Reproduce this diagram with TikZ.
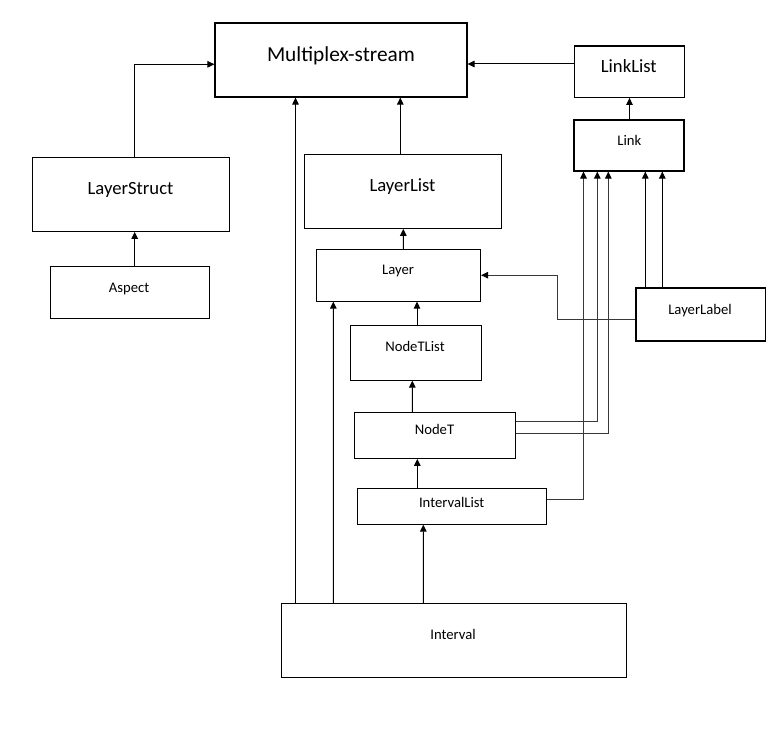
\documentclass[tikz,border=0pt]{standalone}
\usepackage{fontspec}
\setmainfont{Carlito}
\usetikzlibrary{arrows.meta}
\begin{document}
\begin{tikzpicture}[x=1pt,y=-1pt,
  box/.style={draw=black,line width=1.1pt,rectangle,inner sep=0pt,fill=white},
  bigtxt/.style={anchor=base,inner sep=0pt,font=\fontsize{21.33}{25}\selectfont},
  midtxt/.style={anchor=base,inner sep=0pt,font=\fontsize{18.67}{22}\selectfont},
  smalltxt/.style={anchor=base,inner sep=0pt,font=\fontsize{14.67}{17}\selectfont},
  arr/.style={draw=black,line width=1pt,-{Triangle[length=7pt,width=6.5pt]}},
  arrg/.style={draw=black!78,line width=1.1pt,-{Triangle[length=7pt,width=6.5pt,fill=black,color=black]}}
]
\useasboundingbox (0,0) rectangle (773,733);
\fill[white] (0,0) rectangle (773,733);

% boxes
\node[box,minimum width=252pt,minimum height=74pt] (ms) at (341,60) {};
\node[bigtxt] (mst) at (341,61.6) {Multiplex-stream};

\node[box,minimum width=109.5pt,minimum height=51.3pt] (linklist) at (629.3,71.7) {};
\node[midtxt] (linklistt) at (628.8,73) {LinkList};

\node[box,minimum width=110pt,minimum height=51pt] (link) at (629,145.5) {};
\node[smalltxt] (linkt) at (629.3,145.6) {Link};

\node[box,minimum width=197pt,minimum height=74pt] (lstruct) at (130.8,194.3) {};
\node[midtxt] (lstructt) at (130.5,194.6) {LayerStruct};

\node[box,minimum width=159pt,minimum height=51.7pt] (aspect) at (129.8,292.2) {};
\node[smalltxt] (aspectt) at (129,292.6) {Aspect};

\node[box,minimum width=196.7pt,minimum height=74pt] (llist) at (402.7,191.3) {};
\node[midtxt] (llistt) at (402.5,191.3) {LayerList};

\node[box,minimum width=164.2pt,minimum height=51.7pt] (layer) at (398.4,275.2) {};
\node[smalltxt] (layert) at (398,274.9) {Layer};

\node[box,minimum width=131pt,minimum height=54.7pt] (ntlist) at (415.8,352.7) {};
\node[smalltxt] (ntlistt) at (415,351.6) {NodeTList};

\node[box,minimum width=161.2pt,minimum height=46pt] (nodet) at (434.9,435.3) {};
\node[smalltxt] (nodett) at (434.5,434.9) {NodeT};

\node[box,minimum width=189.2pt,minimum height=35.7pt] (ilist) at (451.9,506.2) {};
\node[smalltxt] (ilistt) at (451.7,507.2) {IntervalList};

\node[box,minimum width=344.7pt,minimum height=74pt] (interval) at (453.7,640.3) {};
\node[smalltxt] (intervalt) at (453,639.2) {Interval};

\node[box,minimum width=129.7pt,minimum height=53pt] (llabel) at (700.8,314.5) {};
\node[smalltxt] (llabelt) at (700,314.9) {LayerLabel};

% connectors
\draw[arr] ([xshift=3.9pt]lstruct.north) |- ([yshift=-4.3pt]ms.west);
\draw[arr] ([xshift=4.9pt]aspect.north) -- ([xshift=3.9pt]lstruct.south);
\draw[arr] ([yshift=7.7pt]linklist.west) -- ([yshift=-4pt]ms.east);
\draw[arr] ([xshift=0.5pt]link.north) -- ([xshift=0.2pt]linklist.south);
\draw[arr] ([xshift=-2.4pt]llist.north) -- ([xshift=59.3pt]ms.south);
\draw[arr] ([xshift=4.9pt]layer.north) -- ([xshift=0.6pt]llist.south);
\draw[arr] ([xshift=-158.2pt]interval.north) -- ([xshift=-45.5pt]ms.south);
\draw[arr] ([xshift=-120.4pt]interval.north) -- ([xshift=-65.1pt]layer.south);
\draw[arr] ([xshift=1.2pt]ntlist.north) -- ([xshift=18.6pt]layer.south);
\draw[arr] ([xshift=-22.6pt]nodet.north) -- ([xshift=-3.5pt]ntlist.south);
\draw[arr] ([xshift=-34.6pt]ilist.north) -- ([xshift=-17.6pt]nodet.south);
\draw[arr] ([xshift=-30.4pt]interval.north) -- ([xshift=-28.6pt]ilist.south);
\draw[arrg] ([yshift=-5pt]llabel.west) -| ([xshift=76.8pt]layer.east) -- (layer.east);
\draw[arr] ([xshift=-55.5pt]llabel.north) -- ([xshift=16.3pt]link.south);
\draw[arr] ([xshift=-38.5pt]llabel.north) -- ([xshift=33.3pt]link.south);
\draw[arrg] ([yshift=14pt]nodet.east) -| ([xshift=-31.7pt]link.south);
\draw[arrg] ([yshift=1.6pt]nodet.east) -| ([xshift=-20.7pt]link.south);
\draw[arrg] ([yshift=6.9pt]ilist.east) -| ([xshift=-45.5pt]link.south);
\end{tikzpicture}
\end{document}
